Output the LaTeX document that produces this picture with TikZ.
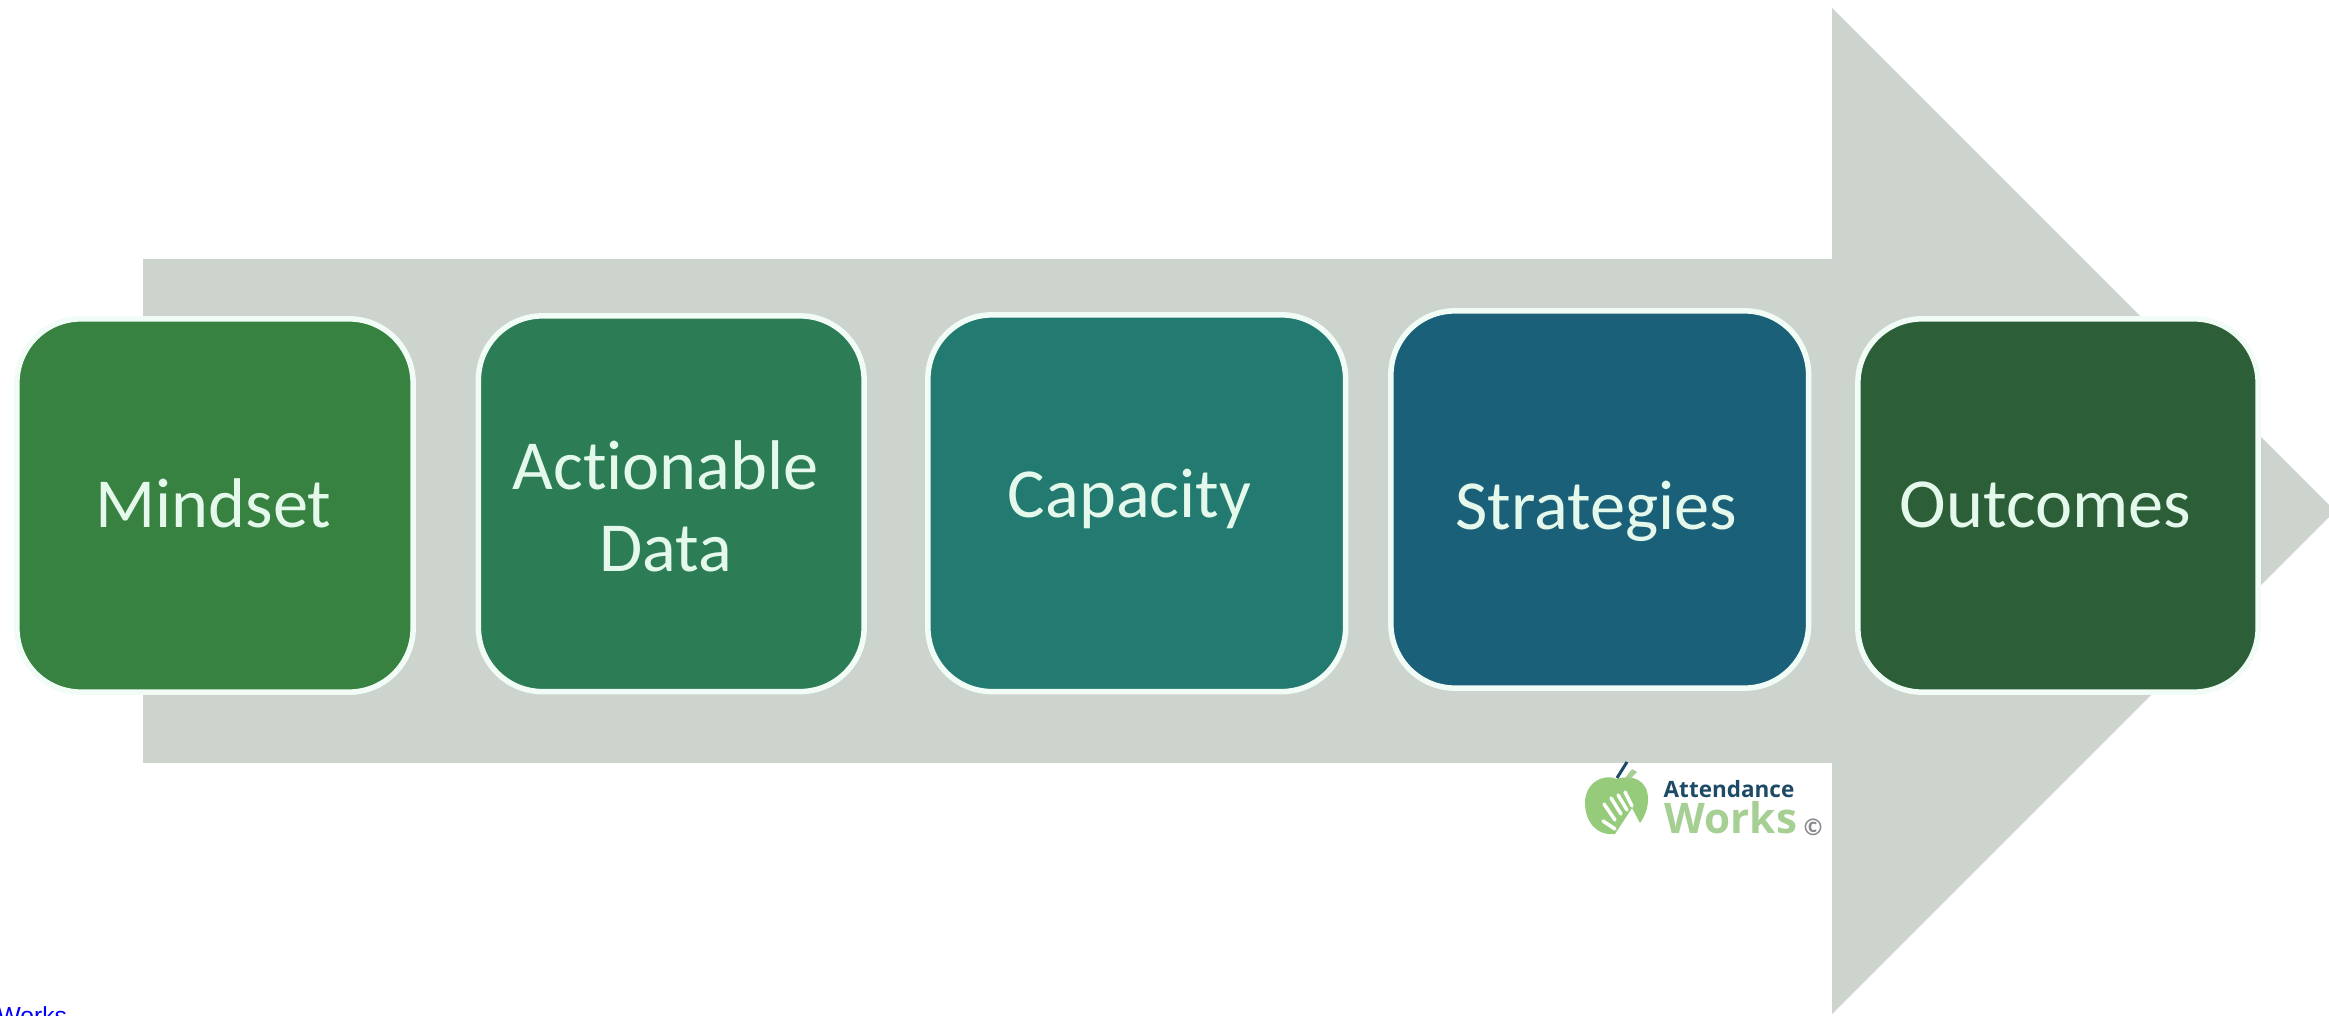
\documentclass[tikz,border=0pt]{standalone}
\usepackage{fontspec}
\setmainfont{Carlito}[Ligatures=CommonOff]
\newfontfamily\logofont{Open Sans}
\newfontfamily\linkfont{Liberation Sans}
\definecolor{arrowgrey}{HTML}{CDD4CE}
\definecolor{boxedge}{HTML}{F2FCF6}
\definecolor{boxtext}{HTML}{E4F9EC}
\definecolor{cmind}{HTML}{378141}
\definecolor{cdata}{HTML}{2C7D55}
\definecolor{ccap}{HTML}{237A70}
\definecolor{cstrat}{HTML}{1B6079}
\definecolor{cout}{HTML}{2C5E37}
\definecolor{applegreen}{HTML}{96CB7C}
\definecolor{worksgreen}{HTML}{A6CF94}
\definecolor{attnavy}{HTML}{1D4A66}
\definecolor{copygrey}{HTML}{8C8890}
\tikzset{
  x=0.01cm,y=-0.01cm,
  stepbox/.style={draw=boxedge,line width=0.055cm,rounded corners=0.64cm,inner sep=0pt,outer sep=0pt},
  steptext/.style={anchor=base,inner sep=0pt,text=boxtext,font=\fontsize{20}{23}\selectfont},
  logotext/.style={anchor=base west,inner sep=0pt},
}
\begin{document}
\begin{tikzpicture}
\useasboundingbox (0,0) rectangle (2329,1016);
\clip (0,0) rectangle (2329,1016);
\fill[white] (0,0) rectangle (2329,1016);
\fill[arrowgrey] (143,259) -- (1832,259) -- (1832,8) -- (2335,511) -- (1832,1014) -- (1832,763) -- (143,763) -- cycle;
\node[stepbox,fill=cmind,minimum width=3.96cm,minimum height=3.73cm] (mindbox) at (215,505.5) {};
\node[stepbox,fill=cdata,minimum width=3.855cm,minimum height=3.755cm] (databox) at (671.25,503.75) {};
\node[stepbox,fill=ccap,minimum width=4.175cm,minimum height=3.765cm] (capbox) at (1136.75,503.25) {};
\node[stepbox,fill=cstrat,minimum width=4.175cm,minimum height=3.77cm] (stratbox) at (1599.75,499.5) {};
\node[stepbox,fill=cout,minimum width=4.00cm,minimum height=3.73cm] (outbox) at (2058,505.5) {};
\node[steptext] (mindset) at (213.5,528) {Mindset};
\node[steptext] (actionable) at (665.5,490) {Actionable};
\node[steptext] (data) at (665.5,572) {Data};
\node[steptext] (capacity) at (1129.5,518) {Capacity};
\node[steptext] (strategies) at (1596,530) {Strategies};
\node[steptext] (outcomes) at (2045.5,528) {Outcomes};
\fill[applegreen] (1617,779) .. controls (1632,774) and (1648,780) .. (1648,799) .. controls (1648,808) and (1645,816) .. (1640,823) -- (1632,808) -- (1615,834) .. controls (1595,836) and (1585,820) .. (1585,803) .. controls (1585,783) and (1603,773) .. (1617,779) -- cycle;
\draw[white,line width=0.035cm,line cap=round] (1604,804) -- (1615,820) (1611,798) -- (1621,814) (1618,795) -- (1627,810) (1625,792) -- (1632,806) (1603,821) -- (1615,829);
\draw[attnavy,line width=0.03cm] (1617,778) -- (1627,762);
\fill[worksgreen] (1625,778) -- (1632,769) -- (1637,772) -- (1630,779) -- cycle;
\node[logotext,font=\logofont\bfseries\fontsize{6.4}{7}\selectfont,text=attnavy] (att) at (1663,798) {Attendance};
\node[logotext,font=\logofont\bfseries\fontsize{12}{13}\selectfont,text=worksgreen] (works) at (1664,834) {Works};
\node[font=\logofont\bfseries\fontsize{6.5}{7}\selectfont,text=copygrey,inner sep=0pt] (copy) at (1813,827) {©};
\node[logotext,font=\linkfont\fontsize{7}{8}\selectfont,text=blue] (link) at (-3,1025) {Works};
\end{tikzpicture}
\end{document}
